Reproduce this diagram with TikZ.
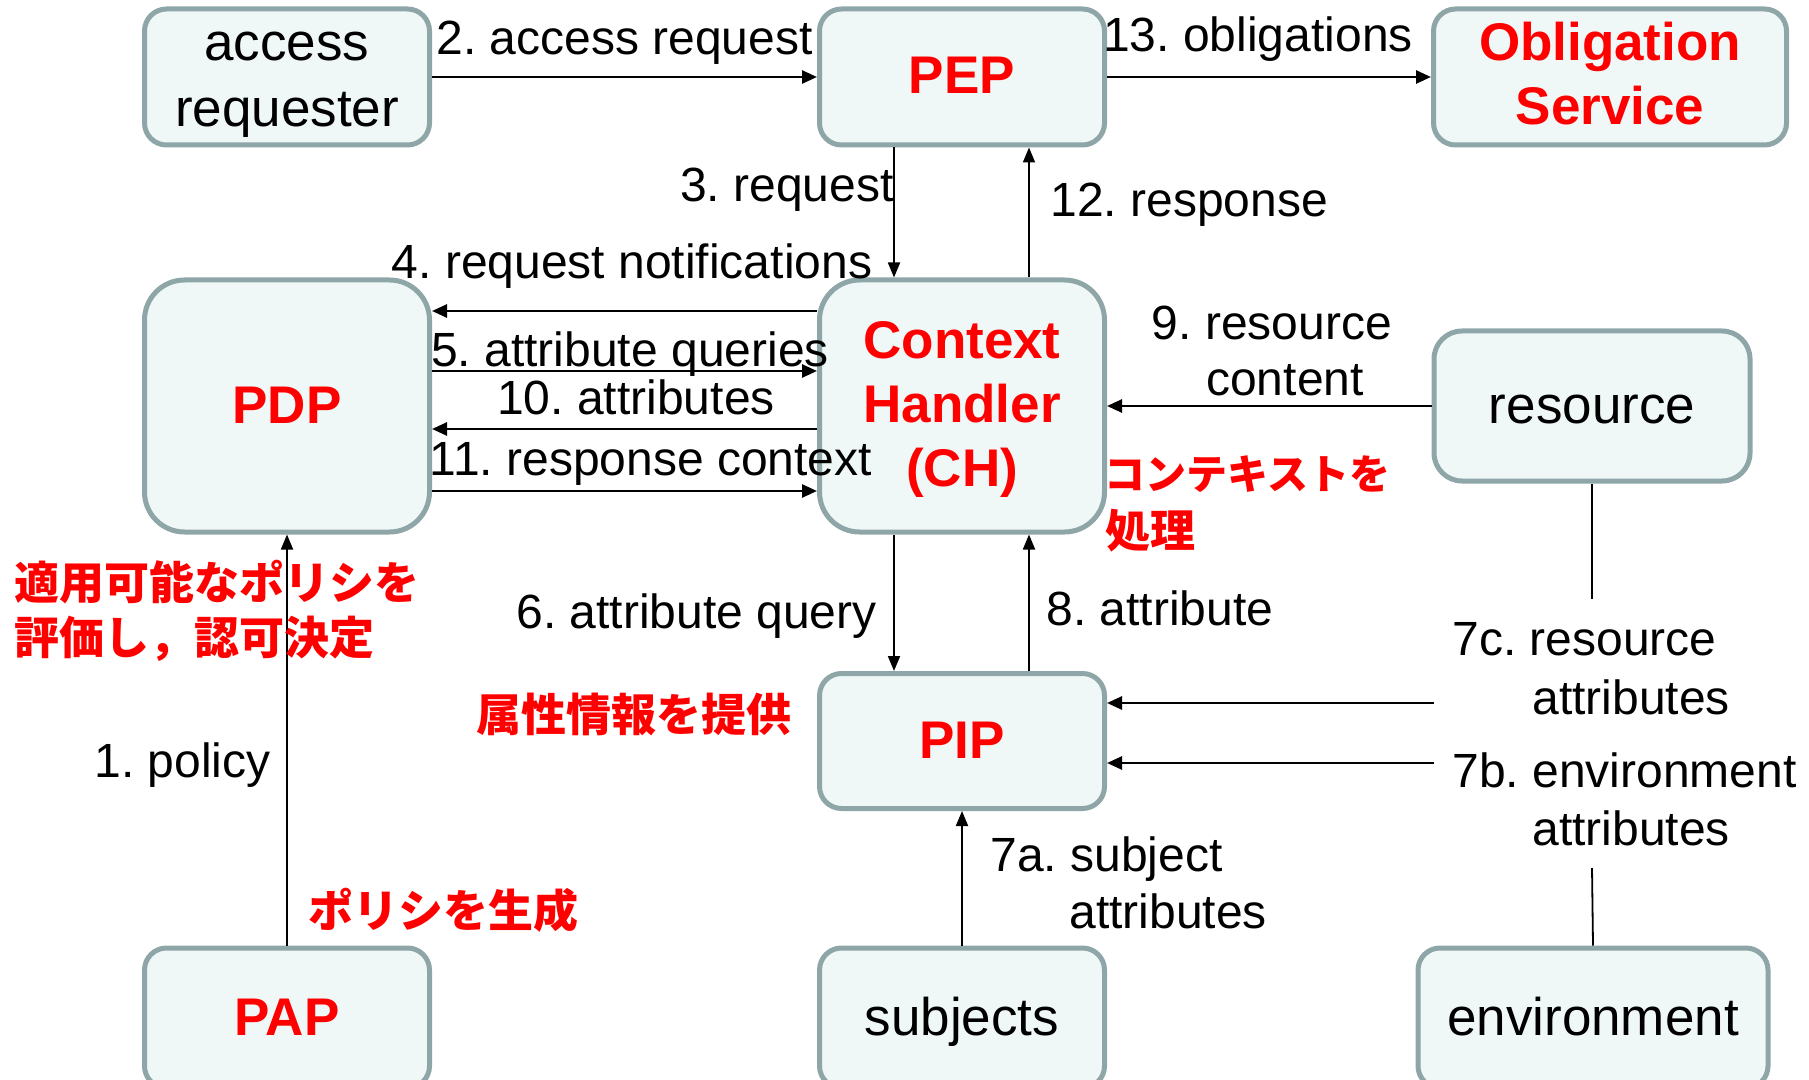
\documentclass[tikz,border=0pt]{standalone}
\usepackage{fontspec}
\setmainfont{Liberation Sans}
\newfontfamily\jp{Noto Sans CJK JP}
\usetikzlibrary{arrows.meta}
\definecolor{bd}{HTML}{8FA6A8}
\definecolor{bg}{HTML}{EFF7F7}
\definecolor{rd}{HTML}{FF0000}
\frenchspacing
\newcommand{\mlines}[1]{\begin{tabular}[t]{@{}c@{}}#1\end{tabular}}
\tikzset{
 box/.style={draw=bd, fill=bg, line width=2.5pt, rounded corners=11pt, inner sep=0pt, text height=18pt, text depth=1pt, font=\fontsize{26.5}{33}\selectfont},
 redbox/.style={box, text=rd, font=\fontsize{26.5}{32}\selectfont\bfseries},
 twol/.style={text depth=34pt},
 threel/.style={text depth=65pt},
 lbl/.style={inner sep=0pt, font=\fontsize{24}{29}\selectfont},
 jlbl/.style={inner sep=0pt, text=rd, font=\fontsize{22.5}{28}\selectfont\jp\bfseries},
 arr/.style={line width=1.3pt, -{Triangle[length=7.5pt,width=6.5pt]}},
 varr/.style={line width=0.9pt, -{Triangle[length=7.5pt,width=6pt]}},
 ln/.style={line width=0.9pt}
}
\begin{document}
\begin{tikzpicture}[x=0.5pt,y=-0.5pt]
\useasboundingbox (0,0) rectangle (1809,1080);
% boxes
\node[box, twol, minimum width=142.5pt, minimum height=68pt] (ar) at (287,77) {\mlines{access\\requester}};
\node[redbox, minimum width=142.5pt, minimum height=68pt] (pep) at (962,77) {PEP};
\node[redbox, twol, minimum width=176.5pt, minimum height=68pt] (obl) at (1610,77) {\mlines{Obligation\\Service}};
\node[redbox, minimum width=142.5pt, minimum height=126pt, rounded corners=20pt] (pdp) at (287,406) {PDP};
\node[redbox, threel, minimum width=142.5pt, minimum height=126pt, rounded corners=20pt] (ch) at (962,406) {\mlines{Context\\Handler\\(CH)}};
\node[box, minimum width=158pt, minimum height=75pt, rounded corners=14pt] (res) at (1592,406) {resource};
\node[redbox, minimum width=142.5pt, minimum height=67.5pt] (pip) at (962,741) {PIP};
\node[redbox, minimum width=142.5pt, minimum height=70pt] (pap) at (287,1018) {PAP};
\node[box, minimum width=142.5pt, minimum height=70pt] (subj) at (962,1018) {subjects};
\node[box, minimum width=175pt, minimum height=70pt] (env) at (1593,1018) {environment};
% connectors
\draw[arr] (ar.east) -- (pep.west);
\draw[arr] (pep.east) -- (obl.west);
\draw[varr] (pep.south -| 894,0) -- (ch.north -| 894,0);
\draw[varr] (ch.north -| 1029,0) -- (pep.south -| 1029,0);
\draw[arr] (ch.west |- 0,311) -- (pdp.east |- 0,311);
\draw[arr] (pdp.east |- 0,371) -- (ch.west |- 0,371);
\draw[arr] (ch.west |- 0,429) -- (pdp.east |- 0,429);
\draw[arr] (pdp.east |- 0,491) -- (ch.west |- 0,491);
\draw[arr] (res.west) -- (ch.east);
\draw[varr] (ch.south -| 894,0) -- (pip.north -| 894,0);
\draw[varr] (pip.north -| 1029,0) -- (ch.south -| 1029,0);
\draw[varr] (subj.north) -- (pip.south);
\draw[varr] (pap.north) -- (pdp.south);
\coordinate (r7c) at (1592,599);
\coordinate (c7c) at (1434,703);
\coordinate (e7b) at (1592,868);
\coordinate (c7b) at (1434,763);
\draw[ln] (res.south) -- (r7c);
\draw[arr] (c7c) -- (pip.east |- c7c);
\draw[ln] (env.north) -- (e7b);
\draw[arr] (c7b) -- (pip.east |- c7b);
% labels
\node[lbl, anchor=base west] (l2) at (436,55) {2. access request};
\node[lbl, anchor=base] (l13) at (1258,52) {13. obligations};
\node[lbl, anchor=base east] (l3) at (894,202) {3. request};
\node[lbl, anchor=base west] (l12) at (1050,217) {12. response};
\node[lbl, anchor=base] (l4) at (632,279) {4. request notifications};
\node[lbl, anchor=base] (l5) at (630,367) {5. attribute queries};
\node[lbl, anchor=base] (l10) at (636,415) {10. attributes};
\node[lbl, anchor=base] (l11) at (651,475) {11. response context};
\node[lbl, anchor=base] (l9a) at (1272,340) {9. resource};
\node[lbl, anchor=base] (l9b) at (1285,395) {content};
\node[lbl, anchor=base east] (l6) at (877,628) {6. attribute query};
\node[lbl, anchor=base west] (l8) at (1046,625) {8. attribute};
\node[lbl, anchor=base west] (l7a1) at (990,871) {7a. subject};
\node[lbl, anchor=base west] (l7a2) at (1069,928) {attributes};
\node[lbl, anchor=base west] (l7c1) at (1452,655) {7c. resource};
\node[lbl, anchor=base west] (l7c2) at (1532,714) {attributes};
\node[lbl, anchor=base west] (l7b1) at (1452,787) {7b. environment};
\node[lbl, anchor=base west] (l7b2) at (1532,845) {attributes};
\node[lbl, anchor=base east] (l1) at (271,777) {1. policy};
% Japanese notes
\node[jlbl, anchor=base west] (j1) at (14,599) {適用可能なポリシを};
\node[jlbl, anchor=base west] (j2) at (14,654) {評価し，認可決定};
\node[jlbl, anchor=base west] (j3) at (476,731) {属性情報を提供};
\node[jlbl, anchor=base west] (j4) at (308,927) {ポリシを生成};
\node[jlbl, anchor=base west, font=\fontsize{20.5}{28}\selectfont\jp\bfseries] (j5) at (1104,489) {コンテキストを};
\node[jlbl, anchor=base west] (j6) at (1105,547) {処理};
\end{tikzpicture}
\end{document}
